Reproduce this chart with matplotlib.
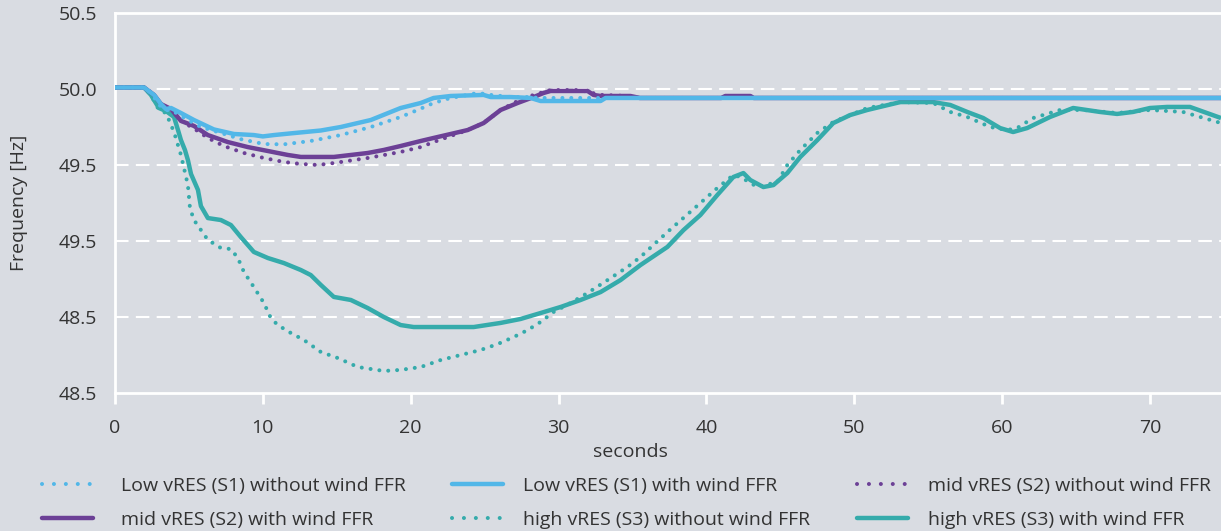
import matplotlib
matplotlib.use("Agg")
import matplotlib.pyplot as plt
from matplotlib.lines import Line2D

plt.rcParams['font.family'] = ['Open Sans', 'DejaVu Sans']

# ---------------- data ----------------
s1_without_t = [0, 1.96, 2.43, 2.77, 3.11, 3.45, 3.92, 4.80, 5.81, 7.16, 8.51, 10.07, 11.42,
                13.24, 15.27, 17.30, 19.32, 20.47, 21.55, 22.70, 23.85, 24.53, 25.41,
                26.76, 27.91, 28.78, 74.8]
s1_without_v = [50.01, 50.01, 49.974, 49.928, 49.882, 49.862, 49.855, 49.803, 49.750, 49.711,
                49.670, 49.638, 49.636, 49.658, 49.697, 49.750, 49.816, 49.862, 49.908,
                49.941, 49.961, 49.974, 49.961, 49.947, 49.947, 49.941, 49.941]

s1_with_t = [0, 1.96, 2.64, 3.11, 3.45, 3.79, 4.46, 5.34, 6.69, 8.04, 9.39, 10.0, 10.75,
             11.89, 13.92, 15.27, 17.30, 19.32, 20.68, 21.55, 22.70, 24.93, 25.41, 26.76,
             28.11, 28.78, 30.61, 32.84, 33.18, 74.8]
s1_with_v = [50.01, 50.01, 49.961, 49.901, 49.868, 49.875, 49.842, 49.796, 49.734, 49.704,
             49.697, 49.688, 49.697, 49.708, 49.727, 49.750, 49.796, 49.875, 49.908, 49.941,
             49.954, 49.961, 49.947, 49.947, 49.941, 49.921, 49.921, 49.921, 49.941, 49.941]

s2_without_t = [0, 1.96, 2.64, 3.11, 3.79, 4.46, 5.34, 6.28, 7.36, 8.72, 10.07, 11.42,
                12.57, 13.72, 14.80, 17.09, 19.32, 20.68, 21.55, 23.85, 24.93, 26.08,
                27.23, 28.31, 29.46, 31.47, 32.84, 34.66, 35.5, 74.8]
s2_without_v = [50.01, 50.01, 49.961, 49.901, 49.868, 49.790, 49.740, 49.678, 49.625, 49.579,
                49.546, 49.520, 49.507, 49.500, 49.513, 49.546, 49.586, 49.618, 49.651,
                49.730, 49.776, 49.862, 49.921, 49.961, 49.993, 49.993, 49.961, 49.954,
                49.941, 49.941]

s2_with_t = [0, 1.96, 2.64, 3.11, 3.79, 4.46, 5.34, 6.28, 7.63, 8.98, 10.34, 11.69,
             12.57, 14.80, 15.95, 17.09, 18.18, 19.32, 20.68, 21.55, 23.85, 24.93, 26.08,
             27.23, 28.31, 28.99, 29.46, 31.96, 32.36, 32.84, 34.86, 35.5, 41.0, 41.28,
             42.97, 43.2, 74.8]
s2_with_v = [50.01, 50.01, 49.961, 49.901, 49.868, 49.790, 49.757, 49.697, 49.651, 49.618,
             49.592, 49.566, 49.553, 49.553, 49.566, 49.579, 49.599, 49.625, 49.658,
             49.678, 49.730, 49.776, 49.862, 49.908, 49.947, 49.974, 49.987, 49.987,
             49.961, 49.954, 49.954, 49.941, 49.941, 49.954, 49.954, 49.941, 49.941]

s3_without_t = [0, 1.96, 2.43, 2.97, 3.45, 3.99, 4.46, 4.93, 5.07, 5.34, 6.28, 7.16, 7.84,
                8.31, 8.72, 9.39, 10.07, 10.54, 11.01, 11.89, 12.77, 13.92, 15.07, 16.42,
                18.18, 19.32, 20.68, 22.03, 23.38, 24.73, 25.88, 26.96, 27.91, 28.78,
                29.66, 30.81, 31.96, 33.31, 34.66, 35.54, 37.36, 39.59, 40.74, 41.82,
                42.30, 43.45, 44.80, 45.47, 46.35, 47.50, 48.58, 50.88, 53.11, 55.34,
                56.49, 57.64, 59.19, 60.34, 61.01, 62.09, 63.92, 65.47, 67.77, 70.0,
                72.23, 74.8]
s3_without_v = [50.01, 50.01, 49.961, 49.862, 49.842, 49.717, 49.566, 49.368, 49.217, 49.138,
                49.007, 48.954, 48.947, 48.888, 48.796, 48.697, 48.592, 48.493, 48.447,
                48.395, 48.349, 48.270, 48.230, 48.171, 48.145, 48.152, 48.171, 48.217,
                48.250, 48.283, 48.322, 48.368, 48.414, 48.467, 48.533, 48.592, 48.658,
                48.743, 48.829, 48.895, 49.059, 49.250, 49.349, 49.434, 49.421, 49.355,
                49.388, 49.500, 49.599, 49.711, 49.783, 49.875, 49.914, 49.908, 49.849,
                49.816, 49.750, 49.730, 49.743, 49.809, 49.862, 49.862, 49.842, 49.862,
                49.849, 49.776]

s3_with_t = [0, 1.96, 2.43, 2.97, 3.45, 3.99, 4.26, 4.46, 4.73, 4.93, 5.14, 5.61, 5.81,
             6.28, 7.16, 7.84, 8.51, 9.39, 10.34, 11.42, 12.57, 13.24, 13.92, 14.80,
             15.95, 17.09, 18.18, 19.32, 20.2, 24.26, 26.08, 27.43, 28.78, 30.14, 31.49,
             32.84, 34.19, 35.54, 37.36, 38.45, 39.59, 40.74, 41.82, 42.50, 42.97, 43.85,
             44.53, 45.47, 46.35, 47.50, 48.58, 49.73, 50.88, 53.11, 55.34, 56.49, 57.64,
             58.72, 59.86, 60.74, 61.69, 63.24, 64.80, 66.62, 67.77, 68.85, 70.0, 71.15,
             72.70, 74.8]
s3_with_v = [50.01, 50.01, 49.961, 49.875, 49.855, 49.816, 49.730, 49.664, 49.599, 49.533,
             49.441, 49.336, 49.230, 49.151, 49.138, 49.105, 49.026, 48.928, 48.888,
             48.855, 48.809, 48.776, 48.711, 48.632, 48.612, 48.559, 48.500, 48.447,
             48.434, 48.434, 48.461, 48.487, 48.526, 48.566, 48.612, 48.664, 48.743,
             48.842, 48.961, 49.072, 49.171, 49.303, 49.421, 49.447, 49.401, 49.355,
             49.368, 49.447, 49.553, 49.664, 49.776, 49.829, 49.862, 49.914, 49.914,
             49.895, 49.849, 49.809, 49.743, 49.717, 49.743, 49.816, 49.875, 49.849,
             49.836, 49.849, 49.875, 49.882, 49.882, 49.809]

x_ticks = [0, 10, 20, 30, 40, 50, 60, 70]
y_ticks = [48.0, 48.5, 49.0, 49.5, 50.0, 50.5]
y_tick_labels = ['48.5', '48.5', '49.5', '49.5', '50.0', '50.5']

labels = ['Low vRES (S1) without wind FFR', 'Low vRES (S1) with wind FFR',
          'mid vRES (S2) without wind FFR', 'mid vRES (S2) with wind FFR',
          'high vRES (S3) without wind FFR', 'high vRES (S3) with wind FFR']

# ---------------- style ----------------
BG = '#d9dce2'
C1 = '#52b7e8'
C2 = '#6c4096'
C3 = '#35abab'
TXT = '#333333'
FS = 14

W, H = 1221, 531
fig = plt.figure(figsize=(W / 100, H / 100), dpi=100, facecolor=BG)
ax = fig.add_axes([115 / W, 1 - 393 / H, (W - 115) / W, 380 / H])
ax.set_facecolor(BG)

dot = (0, (0.01, 2.2))
lw_solid = 3.2
lw_dot = 2.9

ax.plot(s3_without_t, s3_without_v, color=C3, lw=lw_dot, ls=dot, dash_capstyle='round', zorder=3)
ax.plot(s3_with_t, s3_with_v, color=C3, lw=lw_solid, solid_capstyle='butt', zorder=3)
ax.plot(s2_without_t, s2_without_v, color=C2, lw=lw_dot, ls=dot, dash_capstyle='round', zorder=4)
ax.plot(s2_with_t, s2_with_v, color=C2, lw=lw_solid, solid_capstyle='butt', zorder=4)
ax.plot(s1_without_t, s1_without_v, color=C1, lw=lw_dot, ls=dot, dash_capstyle='round', zorder=5)
ax.plot(s1_with_t, s1_with_v, color=C1, lw=lw_solid, solid_capstyle='butt', zorder=5)

ax.set_xlim(0, 74.8)
ax.set_ylim(48.0, 50.5)

for sp in ['left', 'bottom', 'top']:
    ax.spines[sp].set_color('white')
    ax.spines[sp].set_linewidth(2.0)
ax.spines['right'].set_visible(False)

ax.set_xticks(x_ticks)
ax.set_xticklabels([str(v) for v in x_ticks])
ax.set_yticks(y_ticks)
ax.set_yticklabels(y_tick_labels)
ax.tick_params(axis='x', colors='white', length=8, width=2, pad=11, labelcolor=TXT, labelsize=FS)
ax.tick_params(axis='y', length=0, pad=13, labelcolor=TXT, labelsize=FS)

for yv in y_ticks[1:-1]:
    ax.axhline(yv, color='white', lw=1.5, ls=(0, (6.5, 3.5)), zorder=1)

ax.set_xlabel('seconds', fontsize=FS, color=TXT)
ax.xaxis.set_label_coords((630 - 115) / (W - 115), -50 / 380)
ax.set_ylabel('Frequency [Hz]', fontsize=FS, color=TXT)
ax.yaxis.set_label_coords(-87 / (W - 115), 0.5)

# ---------------- legend (3 columns, row-major order) ----------------
def proxy(color, dotted):
    if dotted:
        return Line2D([], [], color=color, lw=lw_dot, ls=(0, (0.01, 2.95)), dash_capstyle='round')
    return Line2D([], [], color=color, lw=lw_solid, solid_capstyle='round')

handles = [proxy(C1, True), proxy(C1, False), proxy(C2, True),
           proxy(C2, False), proxy(C3, True), proxy(C3, False)]

col_x = [42, 452, 857]
col_pad = [1.47, 1.05, 1.05]
for c in range(3):
    hs = [handles[c], handles[c + 3]]
    ls_ = [labels[c], labels[c + 3]]
    fig.legend(hs, ls_, loc='upper left', bbox_to_anchor=(col_x[c] / W, 1 - 477 / H),
               frameon=False, borderpad=0, borderaxespad=0, fontsize=FS,
               handlelength=2.6, handletextpad=col_pad[c], labelspacing=0.82,
               labelcolor=TXT)

fig.savefig('out.png', dpi=100, facecolor=BG)
